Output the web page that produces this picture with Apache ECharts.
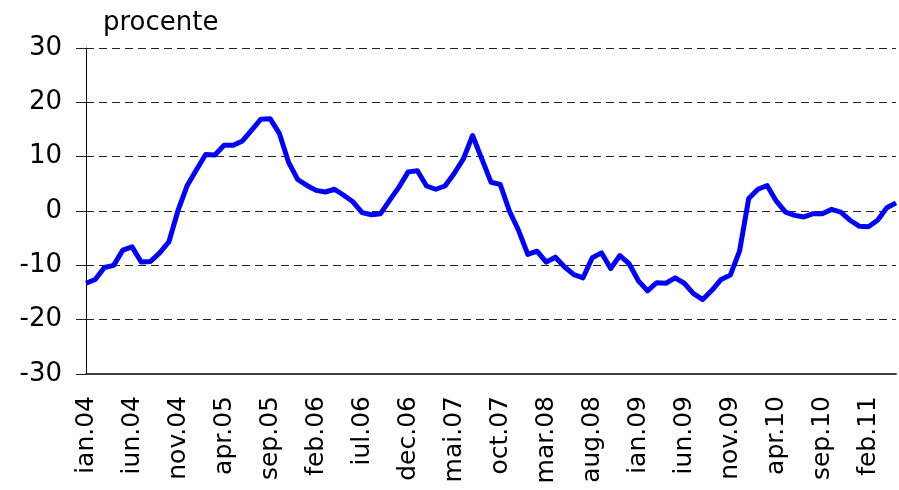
<!DOCTYPE html>
<html>
<head>
<meta charset="utf-8">
<script src="https://cdn.jsdelivr.net/npm/echarts@6/dist/echarts.min.js"></script>
<style>
  html, body { margin: 0; padding: 0; background: #fff; }
  #chart1 { width: 899px; height: 490px; }
</style>
</head>
<body>
<div id="chart1"></div>
<script>
  'use strict'

  /* data */
  var categories = [
    'ian.04','feb.04','mar.04','apr.04','mai.04','iun.04','iul.04','aug.04','sep.04','oct.04','nov.04','dec.04',
    'ian.05','feb.05','mar.05','apr.05','mai.05','iun.05','iul.05','aug.05','sep.05','oct.05','nov.05','dec.05',
    'ian.06','feb.06','mar.06','apr.06','mai.06','iun.06','iul.06','aug.06','sep.06','oct.06','nov.06','dec.06',
    'ian.07','feb.07','mar.07','apr.07','mai.07','iun.07','iul.07','aug.07','sep.07','oct.07','nov.07','dec.07',
    'ian.08','feb.08','mar.08','apr.08','mai.08','iun.08','iul.08','aug.08','sep.08','oct.08','nov.08','dec.08',
    'ian.09','feb.09','mar.09','apr.09','mai.09','iun.09','iul.09','aug.09','sep.09','oct.09','nov.09','dec.09',
    'ian.10','feb.10','mar.10','apr.10','mai.10','iun.10','iul.10','aug.10','sep.10','oct.10','nov.10','dec.10',
    'ian.11','feb.11','mar.11','apr.11','mai.11'
  ];
  var values = [
    -13.3, -12.6, -10.4, -10.0, -7.2, -6.6, -9.4, -9.3, -7.7, -5.7, 0.1, 4.7,
    7.6, 10.4, 10.3, 12.1, 12.1, 12.9, 14.9, 16.9, 17.0, 14.3, 9.0, 5.8,
    4.7, 3.8, 3.5, 4.0, 2.9, 1.7, -0.3, -0.7, -0.5, 2.0, 4.4, 7.2,
    7.4, 4.6, 4.0, 4.6, 6.9, 9.6, 13.9, 9.6, 5.3, 4.9, 0.0, -3.6,
    -8.0, -7.4, -9.4, -8.5, -10.3, -11.7, -12.3, -8.6, -7.7, -10.6, -8.2, -9.7,
    -12.8, -14.7, -13.2, -13.3, -12.3, -13.3, -15.2, -16.3, -14.6, -12.6, -11.8, -7.4,
    2.3, 4.0, 4.7, 1.8, -0.2, -0.8, -1.1, -0.5, -0.5, 0.3, -0.2, -1.7,
    -2.8, -2.9, -1.7, 0.6, 1.5
  ];
  var unitLabel = 'procente';

  var chart = document.getElementById('chart1');
  var lineChart = echarts.init(chart);
  var option = {
    animation: false,
    textStyle: { fontFamily: 'DejaVu Sans' },
    grid: {
      top: 48,
      right: 3,
      bottom: 116,
      left: 86
    },
    graphic: [{
      type: 'text',
      left: 103,
      top: 10,
      style: {
        text: unitLabel,
        fontSize: 26,
        fontFamily: 'DejaVu Sans',
        fill: '#000'
      }
    }],
    xAxis: {
      type: 'category',
      boundaryGap: false,
      data: categories,
      axisLine: {
        onZero: false,
        lineStyle: { color: '#404040', width: 2 }
      },
      axisTick: { show: false },
      axisLabel: {
        interval: 4,
        rotate: 90,
        margin: 22,
        fontSize: 25,
        color: '#000'
      },
      splitLine: { show: false }
    },
    yAxis: {
      type: 'value',
      min: -30,
      max: 30,
      interval: 10,
      axisLine: {
        show: true,
        lineStyle: { color: '#000', width: 1 }
      },
      axisTick: {
        show: true,
        length: 10,
        lineStyle: { color: '#222' }
      },
      axisLabel: {
        margin: 24,
        fontSize: 26,
        color: '#000'
      },
      splitLine: {
        lineStyle: { color: '#222', type: [8, 5], width: 1 }
      }
    },
    series: [{
      name: unitLabel,
      type: 'line',
      data: values,
      showSymbol: false,
      lineStyle: { color: '#0000ff', width: 5, join: 'round' },
      itemStyle: { color: '#0000ff' }
    }]
  };
  lineChart.setOption(option);
</script>
</body>
</html>
